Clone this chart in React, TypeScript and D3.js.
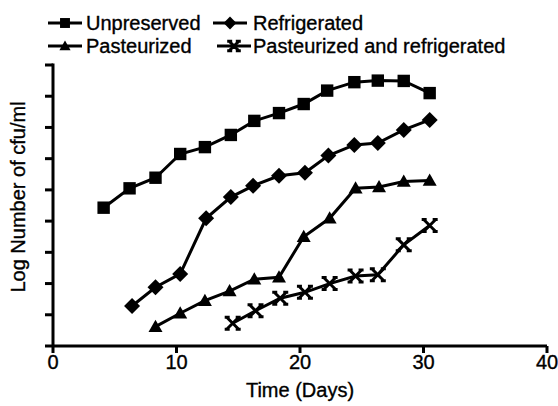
import React from "react";
import * as d3 from "d3";

const unpreservedDays = [4.1, 6.2, 8.3, 10.3, 12.3, 14.4, 16.3, 18.3, 20.3, 22.2, 24.4, 26.3, 28.4, 30.5];
const unpreservedVals = [4.43, 5.05, 5.39, 6.15, 6.37, 6.76, 7.21, 7.46, 7.75, 8.18, 8.45, 8.5, 8.49, 8.1];

const refrigeratedDays = [6.4, 8.3, 10.3, 12.4, 14.4, 16.2, 18.3, 20.4, 22.3, 24.4, 26.3, 28.4, 30.5];
const refrigeratedVals = [1.28, 1.88, 2.31, 4.09, 4.77, 5.13, 5.45, 5.55, 6.1, 6.44, 6.5, 6.92, 7.24];

const pasteurizedDays = [8.3, 10.3, 12.3, 14.3, 16.3, 18.3, 20.3, 22.4, 24.5, 26.4, 28.4, 30.5];
const pasteurizedVals = [0.62, 1.05, 1.45, 1.76, 2.14, 2.2, 3.5, 4.09, 5.05, 5.09, 5.27, 5.3];

const pastRefDays = [14.55, 16.4, 18.4, 20.4, 22.4, 24.5, 26.3, 28.4, 30.5];
const pastRefVals = [0.73, 1.13, 1.53, 1.72, 2.0, 2.24, 2.28, 3.24, 3.86];

const xTicks = [0, 10, 20, 30, 40];
const yTicks = [0, 1, 2, 3, 4, 5, 6, 7, 8, 9];

const legendLabels = ["Unpreserved", "Refrigerated", "Pasteurized", "Pasteurized and refrigerated"];
const xTitle = "Time (Days)";
const yTitle = "Log Number of cfu/ml";

type Shape = "square" | "diamond" | "triangle" | "x";

function Marker({ shape, x, y, s = 1 }: { shape: Shape; x: number; y: number; s?: number }) {
  if (shape === "square") {
    const h = 6.2 * s;
    return <rect x={x - h} y={y - h} width={2 * h} height={2 * h} fill="#000" />;
  }
  if (shape === "diamond") {
    const h = 8 * s;
    return <path d={`M${x},${y - h}L${x + h},${y}L${x},${y + h}L${x - h},${y}Z`} fill="#000" />;
  }
  if (shape === "triangle") {
    const h = 7 * s;
    return <path d={`M${x},${y - h}L${x + h},${y + h * 0.75}L${x - h},${y + h * 0.75}Z`} fill="#000" />;
  }
  const h = 6 * s;
  return (
    <path
      d={`M${x - h},${y - h}L${x + h},${y + h}M${x + h},${y - h}L${x - h},${y + h}M${x - h - 2},${y - h}L${x - h + 3},${y - h}M${x + h - 3},${y - h}L${x + h + 2},${y - h}M${x - h - 2},${y + h}L${x - h + 3},${y + h}M${x + h - 3},${y + h}L${x + h + 2},${y + h}`}
      stroke="#000"
      strokeWidth={3}
      fill="none"
    />
  );
}

export default function App() {
  const W = 558;
  const H = 406;
  const x = d3.scaleLinear().domain([0, 40]).range([53, 547]);
  const y = d3.scaleLinear().domain([0, 9]).range([346, 65]);
  const font = "Liberation Sans, Arial, sans-serif";
  const textProps = { fontFamily: font, fontSize: 20, fill: "#000", stroke: "#000", strokeWidth: 0.35 };

  const series: { days: number[]; vals: number[]; shape: Shape }[] = [
    { days: unpreservedDays, vals: unpreservedVals, shape: "square" },
    { days: refrigeratedDays, vals: refrigeratedVals, shape: "diamond" },
    { days: pasteurizedDays, vals: pasteurizedVals, shape: "triangle" },
    { days: pastRefDays, vals: pastRefVals, shape: "x" },
  ];

  const line = d3
    .line<[number, number]>()
    .x((d) => x(d[0]))
    .y((d) => y(d[1]));

  const legendItems = [
    { shape: "square" as Shape, lx: 48, tx: 86, cy: 23, label: legendLabels[0] },
    { shape: "diamond" as Shape, lx: 213, tx: 253, cy: 23, label: legendLabels[1] },
    { shape: "triangle" as Shape, lx: 48, tx: 86, cy: 46, label: legendLabels[2] },
    { shape: "x" as Shape, lx: 217, tx: 253, cy: 46, label: legendLabels[3] },
  ];

  return (
    <svg width={W} height={H} style={{ position: "absolute", left: 0, top: 0, background: "#fff" }}>
      {/* axes */}
      <line x1={x(0)} x2={x(40)} y1={y(0)} y2={y(0)} stroke="#000" strokeWidth={3} />
      <line x1={x(0)} x2={x(0)} y1={y(9) - 1.5} y2={y(0)} stroke="#000" strokeWidth={3} />
      {yTicks.map((t) => (
        <line key={"yt" + t} x1={x(0) - 8} x2={x(0)} y1={y(t)} y2={y(t)} stroke="#000" strokeWidth={3} />
      ))}
      {xTicks.map((t) => (
        <g key={"xt" + t}>
          <line x1={x(t)} x2={x(t)} y1={y(0)} y2={y(0) + 7} stroke="#000" strokeWidth={3} />
          <text x={x(t)} y={369} textAnchor="middle" {...textProps}>
            {t}
          </text>
        </g>
      ))}
      <text x={300} y={397} textAnchor="middle" {...textProps}>
        {xTitle}
      </text>
      <text transform={`translate(25,${197}) rotate(-90)`} textAnchor="middle" {...textProps}>
        {yTitle}
      </text>

      {/* series */}
      {series.map((s, i) => {
        const pts = s.days.map((d, j) => [d, s.vals[j]] as [number, number]);
        return (
          <g key={"s" + i}>
            <path d={line(pts) || ""} stroke="#000" strokeWidth={3} fill="none" />
            {pts.map((p, j) => (
              <Marker key={j} shape={s.shape} x={x(p[0])} y={y(p[1])} />
            ))}
          </g>
        );
      })}

      {/* legend */}
      {legendItems.map((it, i) => (
        <g key={"lg" + i}>
          <line x1={it.lx} x2={it.lx + 34} y1={it.cy} y2={it.cy} stroke="#000" strokeWidth={3} />
          <Marker shape={it.shape} x={it.lx + 17} y={it.cy} s={0.8} />
          <text x={it.tx} y={it.cy + 7} {...textProps}>
            {it.label}
          </text>
        </g>
      ))}
    </svg>
  );
}
